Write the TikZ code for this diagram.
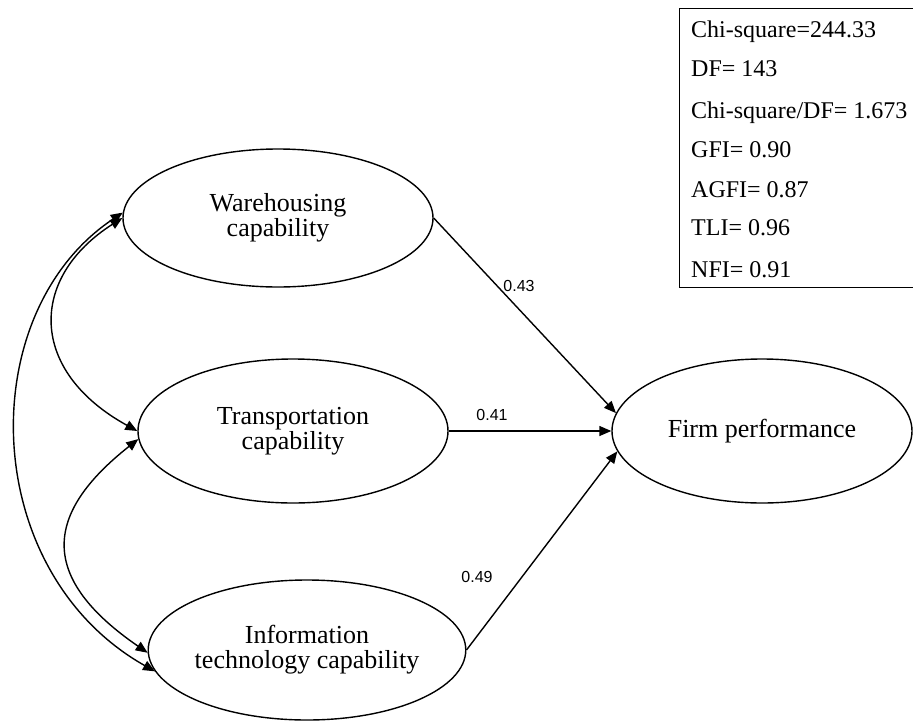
\documentclass[tikz,border=0pt]{standalone}
\usepackage{fontspec}
\setmainfont{Liberation Serif}
\newfontfamily\labelfont{Liberation Sans}
\usetikzlibrary{arrows.meta,shapes.geometric}
\tikzset{
  lat/.style={ellipse, draw, line width=1.4pt, inner sep=0pt, align=center,
    font=\fontsize{26}{25}\selectfont},
  arr/.style={line width=1.4pt, -{Triangle[length=12pt,width=10pt]}},
  biarr/.style={line width=1.4pt, {Triangle[length=12pt,width=10pt]}-{Triangle[length=12pt,width=10pt]}},
  coef/.style={font=\labelfont\fontsize{16}{16}\selectfont, inner sep=0pt},
  stat/.style={anchor=base west, inner sep=0pt, font=\fontsize{24}{24}\selectfont},
}
\begin{document}
\begin{tikzpicture}[x=1pt,y=-1pt]
\useasboundingbox (0,0) rectangle (913,726);
\fill[white] (0,0) rectangle (913,726);

\node[lat, minimum width=310pt, minimum height=138pt] (W) at (278,218) {Warehousing\\capability};
\node[lat, minimum width=310pt, minimum height=144pt] (T) at (293,431) {Transportation\\capability};
\node[lat, minimum width=310pt, minimum height=140pt] (I) at (307,650) {Information\\technology capability};
\node[lat, minimum width=300pt, minimum height=144pt] (F) at (762,431) {Firm performance};

\node[draw, line width=1.4pt, minimum width=240pt, minimum height=279pt, anchor=north west, inner sep=0pt] (stats) at (679,8) {};
\node[stat] (s1) at (691,37) {Chi-square=244.33};
\node[stat] (s2) at (691,76) {DF= 143};
\node[stat] (s3) at (691,118) {Chi-square/DF= 1.673};
\node[stat] (s4) at (691,157) {GFI= 0.90};
\node[stat] (s5) at (691,197) {AGFI= 0.87};
\node[stat] (s6) at (691,235) {TLI= 0.96};
\node[stat] (s7) at (691,277) {NFI= 0.91};

\draw[arr] (W.east) -- (F.173);
\draw[arr] (T.east) -- (F.180);
\draw[arr] (I.east) -- (F.188);

\node[coef] (c1) at (519,286) {0.43};
\node[coef] (c2) at (492,415) {0.41};
\node[coef] (c3) at (477,577) {0.49};

\draw[biarr] (W.178) .. controls +(-150,100) and +(-177,-100) .. (I.188);
\draw[biarr] (W.180) .. controls +(-94,60) and +(-109,-60) .. (T.180);
\draw[biarr] (T.183) .. controls +(-95,75) and +(-109,-75) .. (I.181);
\end{tikzpicture}
\end{document}
